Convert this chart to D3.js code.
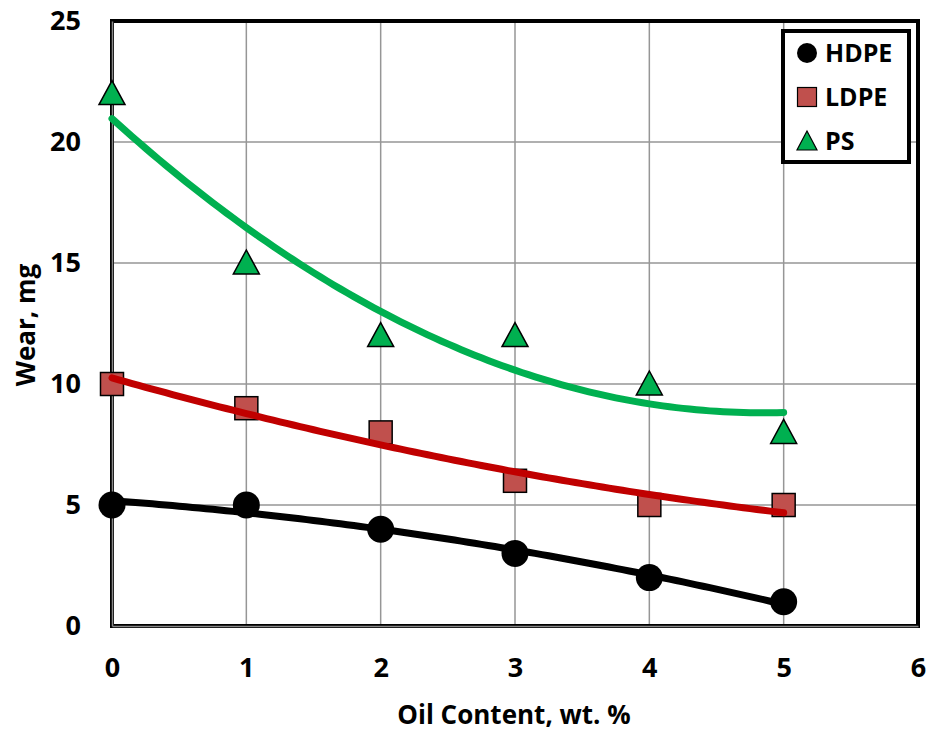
<!DOCTYPE html>
<html><head><meta charset="utf-8">
<script src="https://cdn.jsdelivr.net/npm/d3@7"></script>
<style>body{margin:0;background:#fff}svg{display:block}text{font-family:"Open Sans",sans-serif;font-weight:bold;fill:#000}</style>
</head><body>
<script>
const oilContent = [0, 1, 2, 3, 4, 5];
const hdpe = [5, 5, 4, 3, 2, 1];
const ldpe = [10, 9, 8, 6, 5, 5];
const ps = [22, 15, 12, 12, 10, 8];
const xTicks = [0, 1, 2, 3, 4, 5, 6];
const yTicks = [0, 5, 10, 15, 20, 25];
const seriesNames = ["HDPE", "LDPE", "PS"];

const W = 932, H = 733;
const svg = d3.select("body").append("svg").attr("width", W).attr("height", H);
const x = d3.scaleLinear().domain([0, 6]).range([112, 918]);
const y = d3.scaleLinear().domain([0, 25]).range([626, 21]);

// gridlines
const g = svg.append("g");
g.selectAll(".vg").data(xTicks.slice(1)).enter().append("line")
  .attr("x1", d => x(d)).attr("x2", d => x(d)).attr("y1", y(0)).attr("y2", y(25))
  .attr("stroke", "#969696").attr("stroke-width", 1.5);
g.selectAll(".hg").data(yTicks.slice(1)).enter().append("line")
  .attr("x1", x(0)).attr("x2", x(6)).attr("y1", d => y(d)).attr("y2", d => y(d))
  .attr("stroke", "#969696").attr("stroke-width", 1.5);

// frame
svg.append("rect").attr("x", x(0)).attr("y", y(25)).attr("width", x(6) - x(0)).attr("height", y(0) - y(25))
  .attr("fill", "none").attr("stroke", "#000").attr("stroke-width", 4);
// axis lines (gray inside black)
const xAxis = svg.append("g").attr("transform", `translate(0,${y(0)})`)
  .call(d3.axisBottom(x).tickValues(xTicks).tickSize(0).tickPadding(31).tickFormat(d3.format("d")));
xAxis.select(".domain").attr("stroke", "#888").attr("stroke-width", 1.5);
xAxis.selectAll("text").attr("font-size", 27).attr("dy", "0.35em").style("font-family", "'Open Sans',sans-serif").style("font-weight", "bold");
xAxis.selectAll("text").attr("y", 42);
const yAxis = svg.append("g").attr("transform", `translate(${x(0)},0)`)
  .call(d3.axisLeft(y).tickValues(yTicks).tickSize(0).tickPadding(31).tickFormat(d3.format("d")));
yAxis.select(".domain").attr("stroke", "#888").attr("stroke-width", 1.5);
yAxis.selectAll("text").attr("font-size", 27).style("font-family", "'Open Sans',sans-serif").style("font-weight", "bold");

// quadratic least-squares fit (Excel polynomial trendline, order 2)
function quadFit(xs, ys) {
  let S = [0, 0, 0, 0, 0], T = [0, 0, 0];
  xs.forEach((xv, i) => {
    for (let k = 0; k < 5; k++) S[k] += Math.pow(xv, k);
    for (let k = 0; k < 3; k++) T[k] += Math.pow(xv, k) * ys[i];
  });
  const A = [[S[0], S[1], S[2], T[0]], [S[1], S[2], S[3], T[1]], [S[2], S[3], S[4], T[2]]];
  for (let i = 0; i < 3; i++) {
    for (let j = i + 1; j < 3; j++) {
      const f = A[j][i] / A[i][i];
      for (let k = i; k < 4; k++) A[j][k] -= f * A[i][k];
    }
  }
  const c = [0, 0, 0];
  for (let i = 2; i >= 0; i--) {
    let s = A[i][3];
    for (let k = i + 1; k < 3; k++) s -= A[i][k] * c[k];
    c[i] = s / A[i][i];
  }
  return t => c[0] + c[1] * t + c[2] * t * t;
}

const series = [
  { name: seriesNames[0], vals: hdpe, line: "#000000", fill: "#000000", shape: "circle" },
  { name: seriesNames[1], vals: ldpe, line: "#C00000", fill: "#C0504D", shape: "square" },
  { name: seriesNames[2], vals: ps, line: "#00B050", fill: "#00B050", shape: "triangle" }
];

function marker(sel, shape, fill) {
  if (shape === "circle") {
    sel.append("circle").attr("r", 13.5).attr("fill", "#000");
  } else if (shape === "square") {
    sel.append("rect").attr("x", -11.5).attr("y", -11.5).attr("width", 23).attr("height", 23)
      .attr("fill", fill).attr("stroke", "#000").attr("stroke-width", 1.5);
  } else {
    sel.append("path").attr("d", "M0,-13 L13,11 L-13,11 Z")
      .attr("fill", fill).attr("stroke", "#000").attr("stroke-width", 1.5).attr("stroke-linejoin", "miter");
  }
}

const fineX = d3.range(0, 5.0001, 0.05);
series.forEach(s => {
  const pts = svg.append("g");
  oilContent.forEach((xv, i) => {
    const m = pts.append("g").attr("transform", `translate(${x(xv)},${y(s.vals[i])})`);
    marker(m, s.shape, s.fill);
  });
});
series.forEach(s => {
  const f = quadFit(oilContent, s.vals);
  svg.append("path").datum(fineX)
    .attr("d", d3.line().x(d => x(d)).y(d => y(f(d))))
    .attr("fill", "none").attr("stroke", s.line).attr("stroke-width", 7).attr("stroke-linecap", "round");
});

// axis titles
svg.append("text").attr("x", 514).attr("y", 724).attr("text-anchor", "middle").attr("font-size", 26).text("Oil Content, wt. %");
svg.append("text").attr("transform", "translate(35,325) rotate(-90)").attr("text-anchor", "middle").attr("font-size", 26).text("Wear, mg");

// legend
const lg = svg.append("g");
lg.append("rect").attr("x", 783).attr("y", 31).attr("width", 126).attr("height", 131)
  .attr("fill", "#fff").attr("stroke", "#000").attr("stroke-width", 4);
series.forEach((s, i) => {
  const cy = 53 + i * 44;
  const m = lg.append("g").attr("transform", `translate(807,${cy})`);
  if (s.shape === "circle") m.append("circle").attr("r", 10).attr("fill", "#000");
  else if (s.shape === "square") m.append("rect").attr("x", -9.5).attr("y", -9.5).attr("width", 19).attr("height", 19).attr("fill", s.fill).attr("stroke", "#000").attr("stroke-width", 1.2);
  else m.append("path").attr("d", "M0,-10 L10,9 L-10,9 Z").attr("fill", s.fill).attr("stroke", "#000").attr("stroke-width", 1.2);
  lg.append("text").attr("x", 825).attr("y", cy).attr("dy", "0.36em").attr("font-size", 25).text(s.name);
});
</script>
</body></html>
